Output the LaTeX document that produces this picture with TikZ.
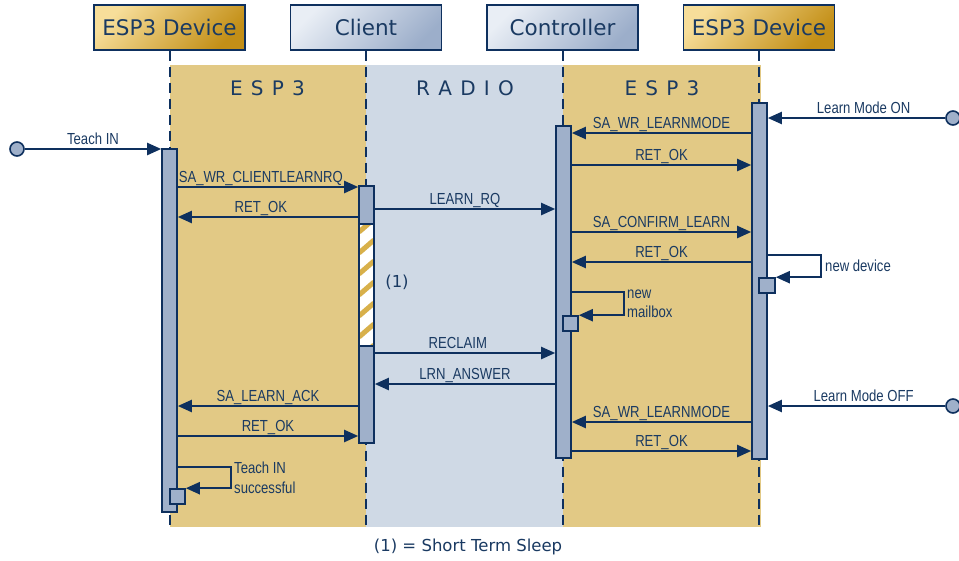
\documentclass[tikz,border=0pt]{standalone}
\usepackage{fontspec}
\setmainfont{DejaVu Sans}
\newfontfamily\msgfont[FakeStretch=0.82]{Liberation Sans}
\newfontfamily\lanefont[WordSpace=1.3]{DejaVu Sans}
\usetikzlibrary{arrows.meta,positioning,fit}
\definecolor{Navy}{HTML}{0E305E}
\definecolor{Ink}{HTML}{1A3A62}
\definecolor{BarBlue}{HTML}{9FB0CA}
\definecolor{Sand}{HTML}{E2C985}
\definecolor{Mist}{HTML}{CFD9E5}
\definecolor{GoldLight}{HTML}{F7DE9A}
\definecolor{GoldDark}{HTML}{C38F17}
\definecolor{BlueLight}{HTML}{E9EEF5}
\definecolor{BlueDark}{HTML}{9CAECA}
\definecolor{Stripe}{HTML}{D8B04A}

\begin{document}
\begin{tikzpicture}[x=1pt,y=-1pt,
 node distance=5mm and 44.3pt,
 head/.style={draw=Navy,line width=1.2pt,minimum width=151pt,minimum height=45pt,
   inner sep=0pt,text=Ink,font=\fontsize{21.5}{25}\selectfont},
 devhead/.style={head,left color=GoldLight,right color=GoldDark,shading angle=45},
 clihead/.style={head,left color=BlueLight,right color=BlueDark,shading angle=45},
 lane/.style={text=Ink,font=\lanefont\fontsize{20}{24}\selectfont},
 life/.style={Navy,line width=2pt,dash pattern=on 10pt off 6pt},
 bar/.style={draw=Navy,fill=BarBlue,line width=1.6pt,inner sep=0pt},
 sleep/.style={fill=white,inner sep=0pt},
 stripe/.style={Stripe,line width=5pt},
 endpt/.style={circle,draw=Navy,fill=BarBlue,line width=1.6pt,minimum size=14pt,inner sep=0pt},
 msg/.style={-{Triangle[length=14pt,width=12pt]},Navy,line width=2.2pt},
 lbl/.style={anchor=base,yshift=5pt,inner sep=0pt,text=Ink,font=\msgfont\fontsize{16}{19}\selectfont},
 note/.style={anchor=west,align=left,inner sep=0pt,text=Ink,font=\msgfont\fontsize{16}{19.5}\selectfont},
 foot/.style={text=Ink,font=\fontsize{16.5}{20}\selectfont}]
 \useasboundingbox (0,0) rectangle (959,560);
 \coordinate (top) at (0,65);
 \coordinate (bot) at (0,527);
 % lifeline heads
 \node[devhead] (devL) at (169.5,27.5) {ESP3 Device};
 \node[clihead,right=of devL] (cli) {Client};
 \node[clihead,right=of cli] (ctl) {Controller};
 \node[devhead,right=of ctl] (devR) {ESP3 Device};
 % lanes
 \fill[Sand] (devL.south |- top) rectangle (cli.south |- bot);
 \fill[Mist] (cli.south |- top) rectangle (ctl.south |- bot);
 \fill[Sand] (ctl.south |- top) rectangle ([xshift=2pt]devR.south |- bot);
 \node[lane] (laneL) at (267.5,88) {E S P 3};
 \node[lane] (laneM) at (465,88) {R A D I O};
 \node[lane] (laneR) at (662,88) {E S P 3};
 \foreach \n in {devL,cli,ctl,devR} \draw[life] (\n.south) -- (\n.south |- bot);
 % activations
 \node[bar,fit={(162,149) (177,512)}] (barL) {};
 \node[bar,fit={(359,186) (374,224)}] (barC1) {};
 \node[sleep,fit={(359,224) (374,346)}] (barC2) {};
 \begin{scope}
  \clip (barC2.south west) rectangle (barC2.north east);
  \foreach \y in {232,253,...,380} \draw[stripe] (359,\y) -- ++(15,-13);
 \end{scope}
 \draw[Navy,line width=1.6pt] (barC2.south west) rectangle (barC2.north east);
 \node[bar,fit={(359,346) (374,443)}] (barC3) {};
 \node[bar,fit={(556,126) (571,458)}] (barK) {};
 \node[bar,fit={(752,103) (767,459)}] (barR) {};
 \node[bar,fit={(563,316) (578,331)}] (sqK) {};
 \node[bar,fit={(759,278) (775,293)}] (sqR) {};
 \node[bar,fit={(170,489) (185,504)}] (sqL) {};
 \node[endpt] (tIn) at (17,149) {};
 \node[endpt] (lmOn) at (953,118) {};
 \node[endpt] (lmOff) at (953,406) {};
 % messages
 \draw[msg] (tIn) -- node[lbl]{Teach IN} (barL.west |- tIn);
 \draw[msg] (lmOn) -- node[lbl,pos=.46]{Learn Mode ON} (barR.east |- lmOn);
 \draw[msg] (barR.west |- 0,133) -- node[lbl]{SA\_WR\_LEARNMODE} (barK.east |- 0,133);
 \draw[msg] (barK.east |- 0,165) -- node[lbl]{RET\_OK} (barR.west |- 0,165);
 \draw[msg] (barL.east |- 0,187) -- node[lbl,pos=.46]{SA\_WR\_CLIENTLEARNRQ} (barC1.west |- 0,187);
 \draw[msg] (barC1.west |- 0,217) -- node[lbl,pos=.54]{RET\_OK} (barL.east |- 0,217);
 \draw[msg] (barC1.east |- 0,209) -- node[lbl]{LEARN\_RQ} (barK.west |- 0,209);
 \draw[msg] (barK.east |- 0,232) -- node[lbl]{SA\_CONFIRM\_LEARN} (barR.west |- 0,232);
 \draw[msg] (barR.west |- 0,262) -- node[lbl]{RET\_OK} (barK.east |- 0,262);
 \draw[msg] (barC3.east |- 0,353) -- node[lbl,pos=.46]{RECLAIM} (barK.west |- 0,353);
 \draw[msg] (barK.west |- 0,384) -- node[lbl]{LRN\_ANSWER} (barC3.east |- 0,384);
 \draw[msg] (lmOff) -- node[lbl,pos=.46]{Learn Mode OFF} (barR.east |- lmOff);
 \draw[msg] (barC3.west |- 0,406) -- node[lbl]{SA\_LEARN\_ACK} (barL.east |- 0,406);
 \draw[msg] (barR.west |- 0,422) -- node[lbl]{SA\_WR\_LEARNMODE} (barK.east |- 0,422);
 \draw[msg] (barL.east |- 0,436) -- node[lbl]{RET\_OK} (barC3.west |- 0,436);
 \draw[msg] (barK.east |- 0,451) -- node[lbl]{RET\_OK} (barR.west |- 0,451);
 % self messages
 \draw[msg] (barK.east |- 0,292) -- ++(52,0) |- (sqK.north east);
 \draw[msg] (barR.east |- 0,255) -- ++(53,0) |- (sqR.north east);
 \draw[msg] (barL.east |- 0,467) -- ++(53,0) |- (sqL.north east);
 \node[note] (nMb) at (627,304) {new\\mailbox};
 \node[note] (nDev) at (825,266) {new device};
 \node[note] (nTs) at (234,478) {Teach IN\\successful};
 \node[foot] (one) at (397,282) {(1)};
 \node[foot] (legend) at (468,547) {(1) = Short Term Sleep};
\end{tikzpicture}
\end{document}
